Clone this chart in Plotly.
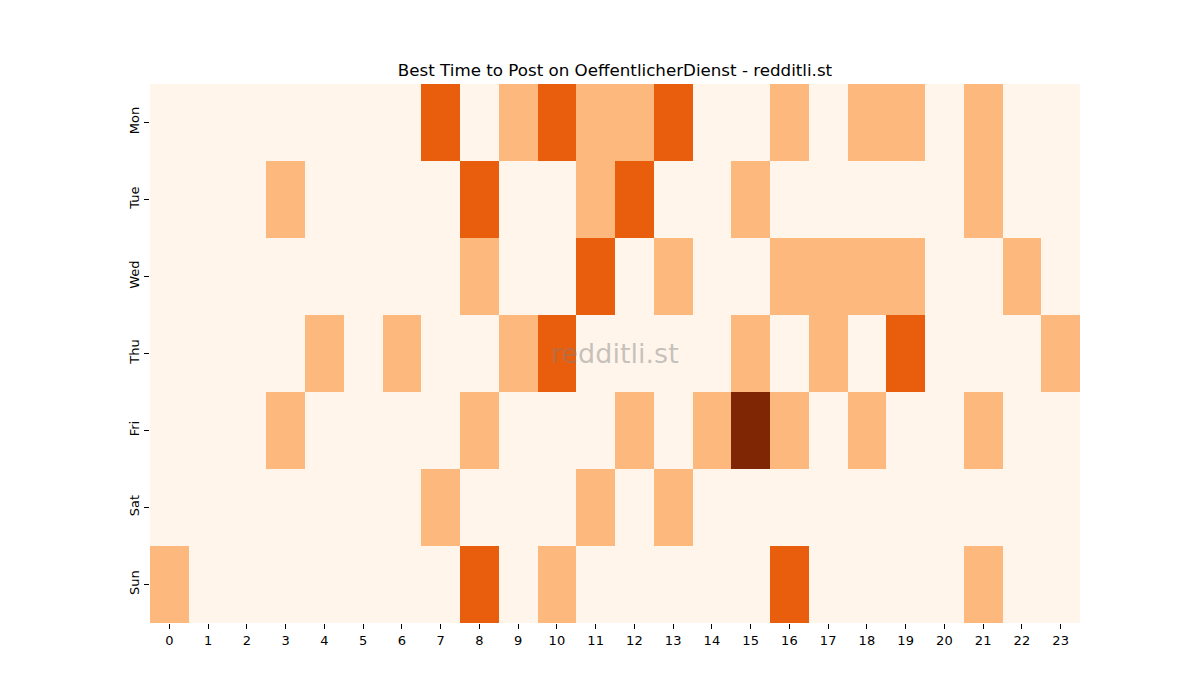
import plotly.graph_objects as go

hours = [str(h) for h in range(24)]
days = ["Mon", "Tue", "Wed", "Thu", "Fri", "Sat", "Sun"]

mon = [0,0,0,0,0,0,0,2,0,1,2,1,1,2,0,0,1,0,1,1,0,1,0,0]
tue = [0,0,0,1,0,0,0,0,2,0,0,1,2,0,0,1,0,0,0,0,0,1,0,0]
wed = [0,0,0,0,0,0,0,0,1,0,0,2,0,1,0,0,1,1,1,1,0,0,1,0]
thu = [0,0,0,0,1,0,1,0,0,1,2,0,0,0,0,1,0,1,0,2,0,0,0,1]
fri = [0,0,0,1,0,0,0,0,1,0,0,0,1,0,1,3,1,0,1,0,0,1,0,0]
sat = [0,0,0,0,0,0,0,1,0,0,0,1,0,1,0,0,0,0,0,0,0,0,0,0]
sun = [1,0,0,0,0,0,0,0,2,0,1,0,0,0,0,0,2,0,0,0,0,1,0,0]

z = [mon, tue, wed, thu, fri, sat, sun]

colorscale = [
    [0.0, "#fff5eb"],
    [1/3, "#fdb97d"],
    [2/3, "#e95e0d"],
    [1.0, "#7f2704"],
]

fig = go.Figure(go.Heatmap(
    z=z, x=hours, y=days, colorscale=colorscale, zmin=0, zmax=3,
    showscale=False, xgap=0, ygap=0, hoverongaps=False,
))

font = "DejaVu Sans"
fig.update_layout(
    width=1200, height=700,
    margin=dict(l=150, r=120, t=84, b=77),
    paper_bgcolor="white", plot_bgcolor="white",
    title=dict(text="Best Time to Post on OeffentlicherDienst - redditli.st",
               x=615/1200, xanchor="center", y=1-70/700, yanchor="middle",
               font=dict(family=font, size=16.7, color="black")),
    font=dict(family=font, size=13, color="black"),
    xaxis=dict(showgrid=False, zeroline=False, ticks="outside", ticklen=5,
               tickwidth=1, tickcolor="black", tickfont=dict(size=13),
               showline=False),
    yaxis=dict(showgrid=False, zeroline=False, ticks="outside", ticklen=5,
               tickwidth=1, tickcolor="black", tickangle=-90,
               autorange="reversed", tickfont=dict(size=13), showline=False),
    annotations=[dict(text="redditli.st", x=0.5, y=0.5, xref="paper", yref="paper",
                      showarrow=False,
                      font=dict(family=font, size=27, color="rgba(128,128,128,0.45)"))],
)

fig.write_html("out.html")
